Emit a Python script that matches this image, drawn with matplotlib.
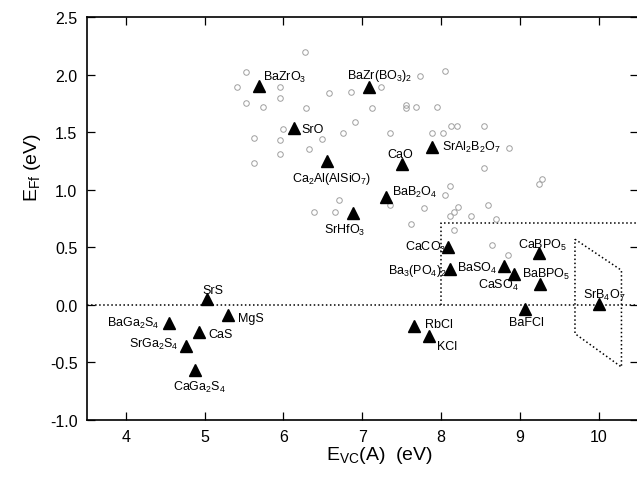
import numpy as np
import matplotlib
matplotlib.use('Agg')
import matplotlib.pyplot as plt

plt.rcParams['font.family'] = ['Liberation Sans', 'DejaVu Sans']
plt.rcParams['mathtext.fontset'] = 'custom'
plt.rcParams['mathtext.rm'] = 'Liberation Sans'
plt.rcParams['mathtext.it'] = 'Liberation Sans:italic'
plt.rcParams['mathtext.default'] = 'regular'
plt.rcParams['axes.unicode_minus'] = False

# Grey open circles (unlabelled compounds)
grey_x = [6.27, 5.52, 5.41, 5.95, 5.95, 6.58, 6.86, 5.52, 5.74, 6.28, 7.13, 6.91,
          6.00, 6.76, 5.63, 5.95, 6.49, 6.33, 5.95, 5.63, 6.70, 6.39, 6.65,
          7.73, 8.05, 7.24, 7.56, 7.56, 7.68, 7.95, 7.35, 7.89, 8.03, 8.13, 8.20,
          8.54, 8.86, 8.54, 8.11, 8.05, 9.28, 9.24, 7.35, 7.79, 8.22, 8.16, 8.11,
          8.38, 8.60, 8.70, 7.62, 8.16, 8.65, 8.85]
grey_y = [2.20, 2.02, 1.89, 1.89, 1.80, 1.84, 1.85, 1.75, 1.72, 1.71, 1.71, 1.59,
          1.53, 1.49, 1.45, 1.43, 1.44, 1.35, 1.31, 1.23, 0.91, 0.81, 0.81,
          1.99, 2.03, 1.89, 1.74, 1.71, 1.72, 1.72, 1.49, 1.49, 1.49, 1.55, 1.55,
          1.55, 1.36, 1.19, 1.03, 0.95, 1.09, 1.05, 0.87, 0.84, 0.85, 0.81, 0.77,
          0.77, 0.87, 0.75, 0.70, 0.65, 0.52, 0.43]

# Labelled compounds (black triangles)
names = ['BaZrO$_3$', 'BaZr(BO$_3$)$_2$', 'SrO', 'Ca$_2$Al(AlSiO$_7$)', 'SrHfO$_3$',
         'CaO', 'BaB$_2$O$_4$', 'SrAl$_2$B$_2$O$_7$', 'CaCO$_3$', 'Ba$_3$(PO$_4$)$_2$',
         'BaSO$_4$', 'CaSO$_4$', 'CaBPO$_5$', 'BaBPO$_5$', 'BaFCl', 'SrB$_4$O$_7$',
         'RbCl', 'KCl', 'SrS', 'MgS', 'BaGa$_2$S$_4$', 'CaS', 'SrGa$_2$S$_4$',
         'CaGa$_2$S$_4$']
tri_x = [5.69, 7.08, 6.13, 6.55, 6.88, 7.50, 7.30, 7.89, 8.09, 8.11, 8.80, 8.93,
         9.24, 9.25, 9.07, 10.00, 7.66, 7.85, 5.03, 5.30, 4.55, 4.93, 4.76, 4.88]
tri_y = [1.90, 1.89, 1.54, 1.25, 0.80, 1.22, 0.94, 1.37, 0.50, 0.31, 0.34, 0.27,
         0.45, 0.18, -0.04, 0.01, -0.18, -0.27, 0.05, -0.09, -0.16, -0.24, -0.36,
         -0.57]

# label placement: offset in pixels from the triangle and horizontal alignment
lab_dx = [4, 11, 8, 5, -8, -1, 6, 10, -2, -3, -7, -16, 4, 7, 1, 6, 11, 8, 6, 10, -10, 9, -7, 4]
lab_dy = [6, 9, -4, -20, -20, 7, 2, -3, -3, -4, -5, -14, 5, 7, -16, 6, -1, -13, 6, -6, -3, -5, -1, -19]
lab_ha = ['left', 'center', 'left', 'center', 'center', 'center', 'left', 'left',
          'right', 'right', 'right', 'center', 'center', 'center', 'center', 'center',
          'left', 'left', 'center', 'left', 'right', 'left', 'right', 'center']

# dotted guide regions
box_x = [8.0, 8.0, 10.5]
box_y = [0.0, 0.71, 0.71]
poly_x = [9.70, 10.29, 10.29, 9.70, 9.70]
poly_y = [0.57, 0.30, -0.54, -0.25, 0.57]

fig = plt.figure(figsize=(6.37, 4.81), dpi=100)
ax = fig.add_axes([86.5/637, 60/481, 551.5/637, 403/481])

ax.axhline(0, color='black', linestyle=':', linewidth=1.1)
ax.plot(box_x, box_y, color='black', linestyle=':', linewidth=1.1)
ax.plot(poly_x, poly_y, color='black', linestyle=':', linewidth=1.1)

ax.plot(grey_x, grey_y, 'o', mfc='none', mec='#a0a0a0', ms=4, mew=0.7)
ax.plot(tri_x, tri_y, '^', color='black', ms=8)

for i in range(len(names)):
    ax.annotate(names[i], (tri_x[i], tri_y[i]), xytext=(lab_dx[i], lab_dy[i]),
                textcoords='offset pixels', ha=lab_ha[i], va='baseline', fontsize=9)

ax.set_xlim(3.5, 10.5)
ax.set_ylim(-1.0, 2.5)
ax.set_xticks(np.arange(4, 11, 1))
ax.set_yticks(np.arange(-1.0, 2.51, 0.5))
ax.set_yticklabels(['%.1f' % v for v in np.arange(-1.0, 2.51, 0.5)])
ax.tick_params(direction='in', length=5.5, width=0.9, top=True, right=True,
               labelsize=11.5, pad=6.5)
for s in ax.spines.values():
    s.set_linewidth(1.2)

ax.set_xlabel('E$_{VC}$(A)  (eV)', fontsize=14)
ax.set_ylabel('E$_{Ff}$ (eV)', fontsize=14)
ax.xaxis.set_label_coords(0.532, -0.06)
ax.yaxis.set_label_coords(-0.078, 0.63)

fig.savefig('out.png', dpi=100)
